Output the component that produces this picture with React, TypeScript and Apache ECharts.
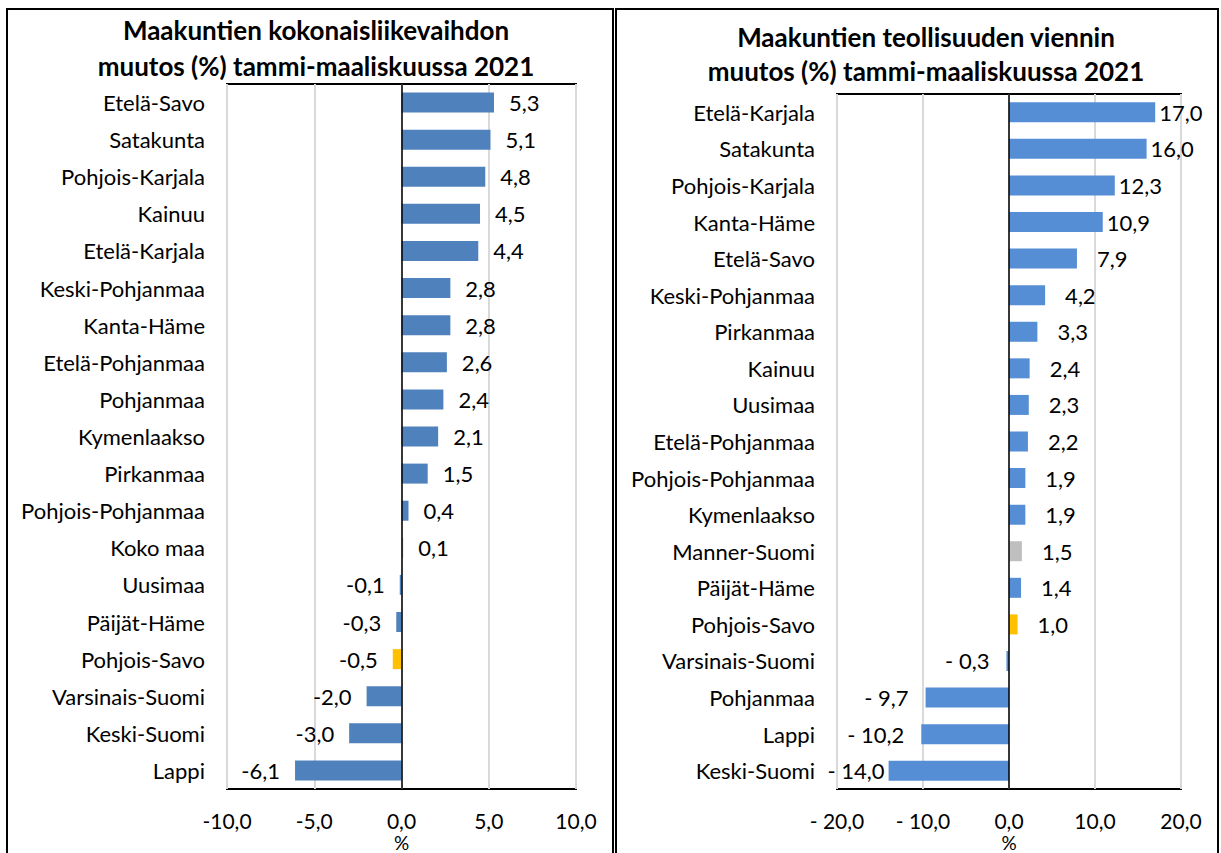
import React, { useEffect, useRef } from "react";
import * as echarts from "echarts";

const leftTitle = "Maakuntien kokonaisliikevaihdon\nmuutos (%) tammi-maaliskuussa 2021";
const rightTitle = "Maakuntien teollisuuden viennin\nmuutos (%) tammi-maaliskuussa 2021";

const leftCategories = [
  "Etelä-Savo", "Satakunta", "Pohjois-Karjala", "Kainuu", "Etelä-Karjala",
  "Keski-Pohjanmaa", "Kanta-Häme", "Etelä-Pohjanmaa", "Pohjanmaa", "Kymenlaakso",
  "Pirkanmaa", "Pohjois-Pohjanmaa", "Koko maa", "Uusimaa", "Päijät-Häme",
  "Pohjois-Savo", "Varsinais-Suomi", "Keski-Suomi", "Lappi",
];
const leftValues = [5.3, 5.1, 4.8, 4.5, 4.4, 2.8, 2.8, 2.6, 2.4, 2.1, 1.5, 0.4, 0.1, -0.1, -0.3, -0.5, -2.0, -3.0, -6.1];

const rightCategories = [
  "Etelä-Karjala", "Satakunta", "Pohjois-Karjala", "Kanta-Häme", "Etelä-Savo",
  "Keski-Pohjanmaa", "Pirkanmaa", "Kainuu", "Uusimaa", "Etelä-Pohjanmaa",
  "Pohjois-Pohjanmaa", "Kymenlaakso", "Manner-Suomi", "Päijät-Häme", "Pohjois-Savo",
  "Varsinais-Suomi", "Pohjanmaa", "Lappi", "Keski-Suomi",
];
const rightValues = [17.0, 16.0, 12.3, 10.9, 7.9, 4.2, 3.3, 2.4, 2.3, 2.2, 1.9, 1.9, 1.5, 1.4, 1.0, -0.3, -9.7, -10.2, -14.0];

const leftTicks = { min: -10, max: 10, interval: 5 };
const rightTicks = { min: -20, max: 20, interval: 10 };

const highlightRegion = "Pohjois-Savo";
const totalRegions = ["Koko maa", "Manner-Suomi"];

const FONT = "Lato, 'Open Sans', sans-serif";
const BLUE_L = "#4F81BD";
const BLUE_R = "#558ED5";
const YELLOW = "#FFC000";
const GREY = "#BFBFBF";

const fmtL = (v: number) => (v < 0 ? "-" : "") + Math.abs(v).toFixed(1).replace(".", ",");
const fmtR = (v: number) => (v < 0 ? "- " : "") + Math.abs(v).toFixed(1).replace(".", ",");

function colorFor(name: string, base: string) {
  if (name === highlightRegion) return YELLOW;
  if (totalRegions.includes(name)) return GREY;
  return base;
}

export default function App() {
  const ref = useRef<HTMLDivElement>(null);
  useEffect(() => {
    if (!ref.current) return;
    const chart = echarts.init(ref.current, undefined, { renderer: "svg" });

    const leftData = leftValues.map((v, i) => ({
      value: v,
      itemStyle: { color: colorFor(leftCategories[i], BLUE_L) },
      label: { position: v < 0 ? "left" : "right", distance: 15 },
    }));
    const rightData = rightValues.map((v, i) => {
      let distance = 17;
      if (v >= 0) distance = Math.abs(v) >= 10 ? 4 : 20;
      else if (Math.abs(v) >= 12) distance = 4;
      return {
        value: v,
        itemStyle: { color: colorFor(rightCategories[i], BLUE_R) },
        label: { position: v < 0 ? "left" : "right", distance },
      };
    });

    const zeroLine = {
      silent: true,
      symbol: ["none", "none"],
      label: { show: false },
      lineStyle: { color: "#000", width: 1.5, type: "solid" },
      data: [{ xAxis: 0 }],
    };

    const labelText = { color: "#000", fontSize: 22, fontFamily: FONT };
    const tickText = { color: "#000", fontSize: 21, fontFamily: FONT };
    const nameText = { color: "#000", fontSize: 19, fontFamily: FONT, lineHeight: 19 };

    chart.setOption({
      animation: false,
      backgroundColor: "#fff",
      graphic: [
        { type: "rect", shape: { x: 7, y: 9, width: 606, height: 860 }, style: { fill: "none", stroke: "#000", lineWidth: 2 } },
        { type: "rect", shape: { x: 616, y: 9, width: 602, height: 860 }, style: { fill: "none", stroke: "#000", lineWidth: 2 } },
        {
          type: "text", x: 316, y: 12,
          style: { text: leftTitle, textAlign: "center", textVerticalAlign: "top", fontSize: 26, fontWeight: "bold", fontFamily: FONT, lineHeight: 36, fill: "#000" },
        },
        {
          type: "text", x: 926, y: 20,
          style: { text: rightTitle, textAlign: "center", textVerticalAlign: "top", fontSize: 26, fontWeight: "bold", fontFamily: FONT, lineHeight: 34, fill: "#000" },
        },
      ],
      grid: [
        { left: 227, top: 84, width: 349, height: 705, show: true, borderColor: "#000", borderWidth: 2, backgroundColor: "transparent", containLabel: false, outerBoundsMode: "none" },
        { left: 837, top: 94, width: 344, height: 695, show: true, borderColor: "#000", borderWidth: 2, backgroundColor: "transparent", containLabel: false, outerBoundsMode: "none" },
      ],
      xAxis: [
        {
          type: "value", gridIndex: 0, ...leftTicks,
          name: "%", nameLocation: "middle", nameGap: 44, nameMoveOverlap: false,
          nameTextStyle: nameText,
          axisLine: { show: false }, axisTick: { show: false },
          splitLine: { lineStyle: { color: "#D9D9D9", width: 2 } },
          axisLabel: { ...tickText, margin: 21, formatter: (v: number) => fmtL(v) },
        },
        {
          type: "value", gridIndex: 1, ...rightTicks,
          name: "%", nameLocation: "middle", nameGap: 44, nameMoveOverlap: false,
          nameTextStyle: nameText,
          axisLine: { show: false }, axisTick: { show: false },
          splitLine: { lineStyle: { color: "#D9D9D9", width: 2 } },
          axisLabel: { ...tickText, margin: 21, formatter: (v: number) => fmtR(v) },
        },
      ],
      yAxis: [
        {
          type: "category", gridIndex: 0, data: leftCategories, inverse: true,
          axisLine: { show: false }, axisTick: { show: false },
          axisLabel: { ...labelText, margin: 22 },
        },
        {
          type: "category", gridIndex: 1, data: rightCategories, inverse: true,
          axisLine: { show: false }, axisTick: { show: false },
          axisLabel: { ...labelText, margin: 22 },
        },
      ],
      series: [
        {
          type: "bar", xAxisIndex: 0, yAxisIndex: 0, data: leftData, barWidth: 20,
          label: { show: true, ...labelText, formatter: (p: any) => fmtL(p.value) },
          markLine: zeroLine,
        },
        {
          type: "bar", xAxisIndex: 1, yAxisIndex: 1, data: rightData, barWidth: 20,
          label: { show: true, ...labelText, formatter: (p: any) => fmtR(p.value) },
          markLine: zeroLine,
        },
      ],
    });
    return () => chart.dispose();
  }, []);
  return (
    <div
      ref={ref}
      style={{ position: "absolute", left: 0, top: 0, width: 1221, height: 853 }}
    />
  );
}
